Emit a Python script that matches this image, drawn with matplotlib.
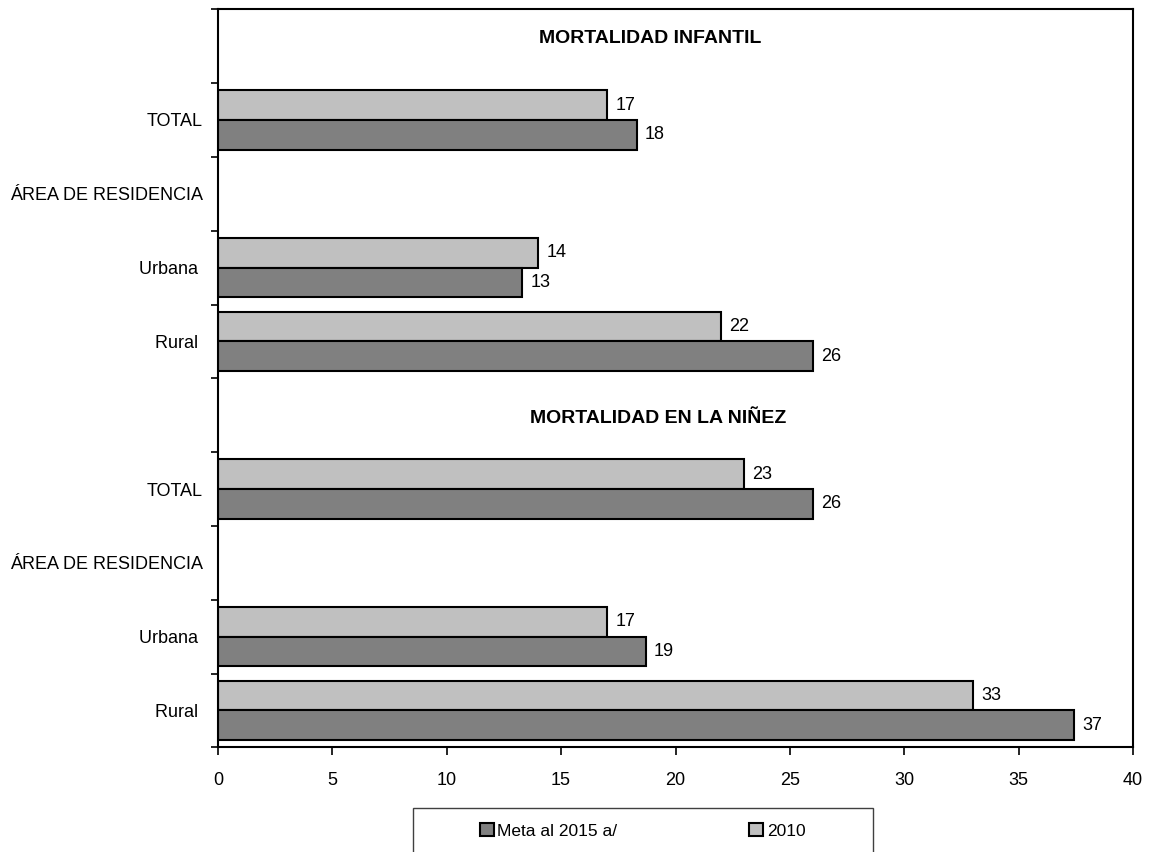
import numpy as np
import matplotlib.pyplot as plt
from matplotlib.patches import Rectangle

# categorias (de arriba hacia abajo)
categorias = ["", "TOTAL", "ÁREA DE RESIDENCIA", "Urbana ", "Rural ",
              "", "TOTAL", "ÁREA DE RESIDENCIA", "Urbana ", "Rural "]
# NaN = fila sin barra
meta_2015 = [np.nan, 18.3, np.nan, 13.3, 26.0, np.nan, 26.0, np.nan, 18.7, 37.4]
valores_2010 = [np.nan, 17.0, np.nan, 14.0, 22.0, np.nan, 23.0, np.nan, 17.0, 33.0]
titulos = ["MORTALIDAD INFANTIL", "MORTALIDAD EN LA NIÑEZ"]
xticks = [0, 5, 10, 15, 20, 25, 30, 35, 40]

plt.rcParams["font.family"] = ["Liberation Sans", "DejaVu Sans"]
plt.rcParams["font.size"] = 13

OSCURO = "#808080"
CLARO = "#c0c0c0"

fig = plt.figure(figsize=(11.52, 8.52), dpi=100)
ax = fig.add_axes([218 / 1152, 1 - 747.3 / 852, (1133 - 218) / 1152, (747.3 - 9.3) / 852])

y = np.arange(len(categorias))
alto = 0.4
b2010 = ax.barh(y - alto / 2, valores_2010, height=alto, color=CLARO,
                edgecolor="black", linewidth=1.5, label="2010")
bmeta = ax.barh(y + alto / 2, meta_2015, height=alto, color=OSCURO,
                edgecolor="black", linewidth=1.5, label="Meta al 2015 a/")

# etiquetas de valores
for barras, vals in [(b2010, valores_2010), (bmeta, meta_2015)]:
    for rect, v in zip(barras, vals):
        if np.isnan(v):
            continue
        ax.annotate(f"{v:.0f}", (v, rect.get_y() + rect.get_height() / 2),
                    xytext=(6, 0), textcoords="offset points",
                    va="center", ha="left", fontsize=13)

# titulos de secciones
ax.text(18.9, -0.1, titulos[0], ha="center", va="center",
        fontsize=14, fontweight="bold")
ax.text(19.26, 5.04, titulos[1], ha="center", va="center",
        fontsize=14, fontweight="bold")

ax.set_xlim(0, 40)
ax.set_ylim(len(categorias) - 0.5, -0.5)
ax.set_xticks(xticks)
ax.set_yticks(y)
ax.set_yticklabels(categorias)
ax.set_yticks(np.arange(len(categorias) + 1) - 0.5, minor=True)
ax.tick_params(axis="y", which="major", length=0, pad=11)
ax.tick_params(axis="y", which="minor", length=5, width=1.2, direction="out")
ax.tick_params(axis="x", length=6, width=1.2, direction="out", pad=12)
for s in ax.spines.values():
    s.set_linewidth(1.5)

# leyenda (recortada por el borde inferior, como en el original)
fig.patches.append(Rectangle((413 / 1152, -0.05), (873 - 413) / 1152, 0.05 + 1 - 808 / 852,
                             transform=fig.transFigure, fill=False,
                             edgecolor="#404040", linewidth=1.0))
fig.legend(handles=[bmeta, b2010], loc="center left",
           bbox_to_anchor=(480 / 1152, 1 - 831 / 852), ncol=2, frameon=False,
           borderpad=0, borderaxespad=0, handlelength=0.8, handleheight=0.8,
           handletextpad=0.2, columnspacing=7.6, fontsize=12.5)

plt.savefig("out.png", dpi=100)
